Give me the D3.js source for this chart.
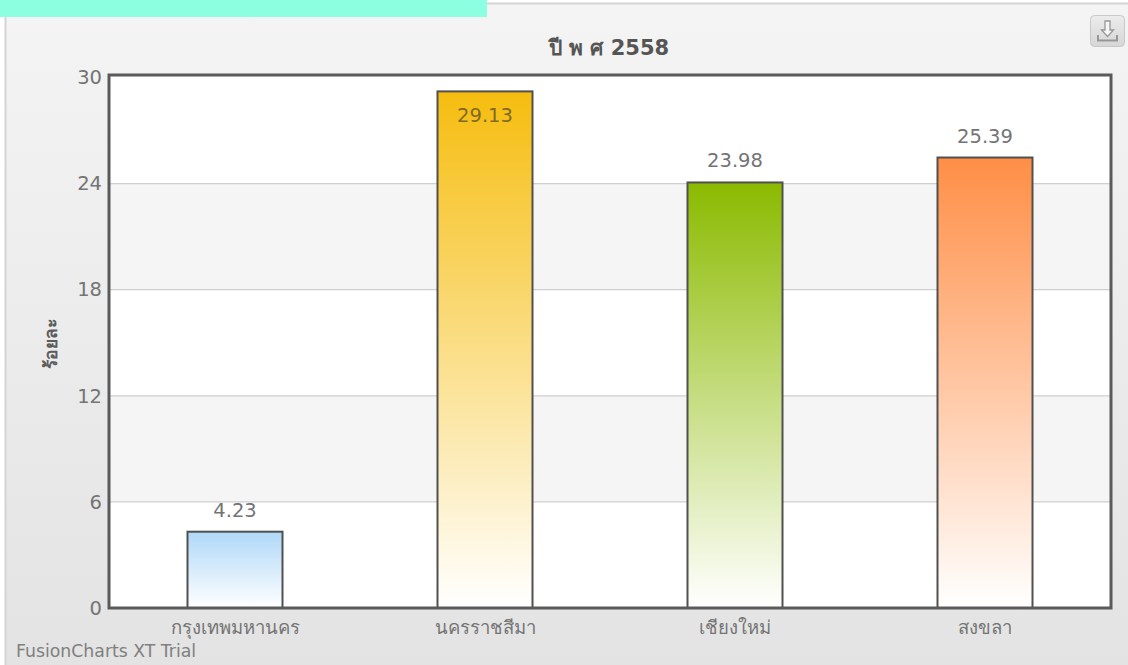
<!DOCTYPE html>
<html lang="th">
<head>
<meta charset="utf-8">
<script src="https://cdn.jsdelivr.net/npm/d3@7/dist/d3.min.js"></script>
<style>
html,body{margin:0;padding:0;background:#fff;overflow:hidden}
svg{display:block}
text{font-family:"DejaVu Sans",Verdana,sans-serif}
</style>
</head>
<body>
<svg id="chart" width="1128" height="665"></svg>
<script>
const provinces = ["กรุงเทพมหานคร", "นครราชสีมา", "เชียงใหม่", "สงขลา"];
const percentages = [4.23, 29.13, 23.98, 25.39];
const barColors = ["#AFD8F8", "#F6BD0F", "#8BBA00", "#FF8E46"];
const yTicks = [0, 6, 12, 18, 24, 30];
const chartTitle = "ปี พ ศ 2558";
const yTitle = "ร้อยละ";
const trialNote = "FusionCharts XT Trial";

const W = 1128, H = 665;
const frame = {left: 109, right: 1111, top: 75, bottom: 608};
const barLift = 1.5; // columns sit slightly above the grid, their feet reach into the frame
const svg = d3.select("#chart");
const defs = svg.append("defs");

const x = d3.scaleBand().domain(provinces).range([frame.left + 1, frame.right - 1]).paddingInner(0.62).paddingOuter(0.31);
const y = d3.scaleLinear().domain([0, 30]).range([frame.bottom, 77.5]);

// Panel background
const bg = defs.append("linearGradient").attr("id", "panel").attr("x1", 0).attr("y1", 0).attr("x2", 0).attr("y2", 1);
bg.append("stop").attr("offset", 0).attr("stop-color", "#f4f4f4");
bg.append("stop").attr("offset", 1).attr("stop-color", "#e3e3e3");
svg.append("rect").attr("width", W).attr("height", H).attr("fill", "#fff");
svg.append("rect").attr("x", 6).attr("y", 4).attr("width", W - 6).attr("height", H - 4).attr("fill", "url(#panel)");
svg.append("path").attr("d", `M5.5 ${H}V3.5H${W}`).attr("fill", "none").attr("stroke", "#d4d4d4").attr("stroke-width", 2);
svg.append("rect").attr("width", 487).attr("height", 17).attr("fill", "#8cffe1");

// Plot area with alternating bands
svg.append("rect").attr("x", frame.left).attr("y", frame.top)
  .attr("width", frame.right - frame.left).attr("height", frame.bottom - frame.top).attr("fill", "#fff");
const bandPairs = d3.pairs(yTicks).filter((_, i) => i % 2 === 1);
svg.append("g").selectAll("rect").data(bandPairs).join("rect")
  .attr("x", frame.left).attr("width", frame.right - frame.left)
  .attr("y", d => y(d[1])).attr("height", d => y(d[0]) - y(d[1]))
  .attr("fill", "#f5f5f5");
svg.append("g").selectAll("line").data(yTicks.slice(1, -1)).join("line")
  .attr("x1", frame.left).attr("x2", frame.right)
  .attr("y1", d => y(d)).attr("y2", d => y(d))
  .attr("stroke", "#cfcfcf").attr("stroke-width", 1.2);

// Bars fade from the series colour down to white
const rows = provinces.map((name, i) => ({name, value: percentages[i], color: barColors[i], id: "bar" + i}));
rows.forEach(r => {
  const g = defs.append("linearGradient").attr("id", r.id).attr("x1", 0).attr("y1", 0).attr("x2", 0).attr("y2", 1);
  g.append("stop").attr("offset", 0).attr("stop-color", r.color);
  g.append("stop").attr("offset", 1).attr("stop-color", "#fff");
});
svg.append("g").selectAll("rect").data(rows).join("rect")
  .attr("x", d => x(d.name)).attr("width", x.bandwidth())
  .attr("y", d => y(d.value) - barLift).attr("height", d => y(0) - y(d.value) + barLift)
  .attr("fill", d => `url(#${d.id})`)
  .attr("stroke", "#505050").attr("stroke-width", 2);

// Plot frame
svg.append("rect").attr("x", frame.left).attr("y", frame.top)
  .attr("width", frame.right - frame.left).attr("height", frame.bottom - frame.top)
  .attr("fill", "none").attr("stroke", "#5a5a5a").attr("stroke-width", 3);

// Value labels: above the bar, or inside when the bar nearly fills the plot
svg.append("g").selectAll("text").data(rows).join("text")
  .attr("x", d => x(d.name) + x.bandwidth() / 2)
  .attr("y", d => y(d.value) - barLift + (d.value > 28 ? 31 : -15))
  .attr("text-anchor", "middle").attr("font-size", 19.5)
  .attr("fill", d => d.value > 28 ? "#7f6a24" : "#747474")
  .text(d => d.value.toFixed(2));

// Axes
const yAxis = svg.append("g").attr("transform", `translate(${frame.left},0)`)
  .call(d3.axisLeft(y).tickValues(yTicks).tickSize(0).tickPadding(7));
const xAxis = svg.append("g").attr("transform", `translate(0,${frame.bottom})`)
  .call(d3.axisBottom(x).tickSize(0).tickPadding(13));
yAxis.select(".domain").remove();
xAxis.select(".domain").remove();
yAxis.selectAll("text").attr("font-size", 19.5).attr("fill", "#747474");
xAxis.selectAll("text").attr("font-size", 18.5).attr("fill", "#747474");

// Titles
svg.append("text").attr("x", 609).attr("y", 55).attr("text-anchor", "middle")
  .attr("font-size", 21).attr("font-weight", "bold").attr("fill", "#555").text(chartTitle);
svg.append("text").attr("transform", "translate(57,344) rotate(-90)").attr("text-anchor", "middle")
  .attr("font-size", 17.5).attr("font-weight", "bold").attr("fill", "#5c5c5c").text(yTitle);
svg.append("text").attr("x", 16).attr("y", 657).attr("font-size", 17.3).attr("fill", "#808080").text(trialNote);

// Export button
const btnFill = defs.append("linearGradient").attr("id", "btn").attr("x1", 0).attr("y1", 0).attr("x2", 0).attr("y2", 1);
btnFill.append("stop").attr("offset", 0).attr("stop-color", "#ececec");
btnFill.append("stop").attr("offset", 1).attr("stop-color", "#d6d6d6");
const btn = svg.append("g").attr("transform", "translate(1090,15)");
btn.append("rect").attr("x", 0.5).attr("y", 0.5).attr("width", 34).attr("height", 31).attr("rx", 4)
  .attr("fill", "url(#btn)").attr("stroke", "#c8c8c8");
btn.append("path").attr("d", "M15 6H20V15H23.5L17.5 21.5L11.5 15H15Z").attr("fill", "#f6f6f6").attr("stroke", "#979797").attr("stroke-width", 1.3);
btn.append("path").attr("d", "M8 20V25.5H27V20").attr("fill", "none").attr("stroke", "#979797").attr("stroke-width", 2);
</script>
</body>
</html>
